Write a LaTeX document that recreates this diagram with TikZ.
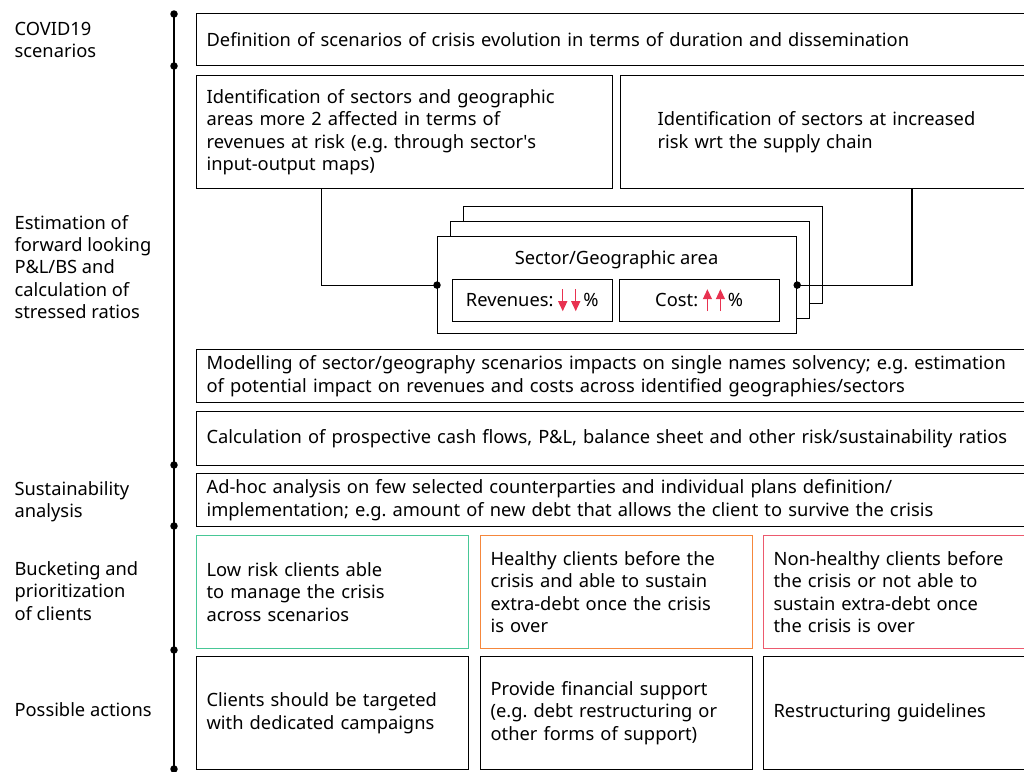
\documentclass[tikz,border=0pt]{standalone}
\usepackage{fontspec}
\setmainfont{Noto Sans}
\usetikzlibrary{calc}
\usetikzlibrary{arrows.meta}
\definecolor{lowgreen}{RGB}{72,199,150}
\definecolor{midorange}{RGB}{245,135,60}
\definecolor{highred}{RGB}{236,90,110}
\definecolor{arrowred}{RGB}{232,50,80}
\frenchspacing

% two small red arrows, from height #1 to height #2
\newcommand\twoarrows[2]{%
    \tikz[baseline=0pt, x=1pt, y=1pt, line width=1.4pt, color=arrowred]{%
        \foreach \ax in {0,13}
            \draw[-{Triangle[length=10pt,width=9pt]}] (\ax,#1) -- (\ax,#2);
    }}

\begin{document}
\begin{tikzpicture}[%
        x=1pt, y=-1pt,
        font=\fontsize{18.3}{22.4}\selectfont,
        line width=1.2pt,
        box/.style={
            % the frame:
            draw=black,
            anchor=north west,
            % the text:
            align=left,
            inner xsep=10pt,
            inner ysep=0pt,
        },
        phase/.style={
            anchor=west,
            align=left,
            inner sep=0pt,
        },
        dot/.style={
            circle,
            fill=black,
            inner sep=0pt,
            minimum size=7.5pt,
        },
        layer/.style={
            draw=black,
            fill=white,
            anchor=north west,
            minimum width=359pt,
            minimum height=97pt,
        },
        cell/.style={
            draw=black,
            anchor=north west,
            minimum width=160pt,
            minimum height=42pt,
        },
    ]

    \clip (0,0) rectangle (1024,771);

    % phases on the left
    \node[phase] (ph1) at (14,40) {COVID19\\scenarios};
    \node[phase] (ph2) at (14,267) {Estimation of\\forward looking\\P\&L/BS and\\calculation of\\stressed ratios};
    \node[phase] (ph3) at (14,502) {Sustainability\\analysis};
    \node[phase] (ph4) at (14,591) {Bucketing and\\prioritization\\of clients};
    \node[phase] (ph5) at (14,710) {Possible actions};

    % time line
    \node[dot] (d1) at (174,14) {};
    \node[dot] (d2) at (174,66) {};
    \node[dot] (d3) at (174,465) {};
    \node[dot] (d4) at (174,526) {};
    \node[dot] (d5) at (174,650) {};
    \node[dot] (d6) at (174,769) {};
    \draw (d1.center) -- (d6.center);

    % boxes
    \node[box, text width=820pt, minimum height=52pt] (scen) at (196,13)
        {Definition of scenarios of crisis evolution in terms of duration and dissemination};
    \node[box, text width=396pt, minimum height=113pt] (identL) at (196,75)
        {Identification of sectors and geographic\\areas more 2 affected in terms of\\revenues at risk (e.g. through sector\textquotesingle s\\input-output maps)};
    \node[box, inner xsep=37pt, text width=342pt, minimum height=113pt] (identR) at (620,75)
        {Identification of sectors at increased\\risk wrt the supply chain};

    % stack of sectors
    \node[layer] (back2) at (463,206) {};
    \node[layer] (back1) at (450,221) {};
    \node[layer] (sector) at (437,236) {};
    \node (sectitle) at (616.5,260) {Sector/Geographic area};
    \node[cell] (rev) at (452,279) {Revenues: \twoarrows{17}{-5}\,\%};
    \node[cell] (cost) at (619,279) {Cost: \twoarrows{-5}{17}\,\%};

    \draw ($(identL.south west)!.3!(identL.south east)$) |- (sector.west);
    \draw ($(identR.south west)!.7!(identR.south east)$) |- (sector.east);
    \node[dot] at (sector.west) {};
    \node[dot] at (sector.east) {};

    \node[box, text width=820pt, minimum height=53pt] (model) at (196,349)
        {Modelling of sector/geography scenarios impacts on single names solvency; e.g. estimation\\of potential impact on revenues and costs across identified geographies/sectors};
    \node[box, text width=820pt, minimum height=54pt] (calc) at (196,411)
        {Calculation of prospective cash flows, P\&L, balance sheet and other risk/sustainability ratios};
    \node[box, text width=820pt, minimum height=53pt] (adhoc) at (196,473)
        {Ad-hoc analysis on few selected counterparties and individual plans definition/\\implementation; e.g. amount of new debt that allows the client to survive the crisis};

    % buckets
    \node[box, draw=lowgreen, text width=252pt, minimum height=113pt] (low) at (196,535)
        {Low risk clients able\\to manage the crisis\\across scenarios};
    \node[box, draw=midorange, text width=252pt, minimum height=113pt] (mid) at (480,535)
        {Healthy clients before the\\crisis and able to sustain\\extra-debt once the crisis\\is over};
    \node[box, draw=highred, text width=252pt, minimum height=113pt] (high) at (763,535)
        {Non-healthy clients before\\the crisis or not able to\\sustain extra-debt once\\the crisis is over};

    % actions
    \node[box, text width=252pt, minimum height=113pt] (act1) at (196,656)
        {Clients should be targeted\\with dedicated campaigns};
    \node[box, text width=252pt, minimum height=113pt] (act2) at (480,656)
        {Provide financial support\\(e.g. debt restructuring or\\other forms of support)};
    \node[box, text width=252pt, minimum height=113pt] (act3) at (763,656)
        {Restructuring guidelines};

\end{tikzpicture}
\end{document}
